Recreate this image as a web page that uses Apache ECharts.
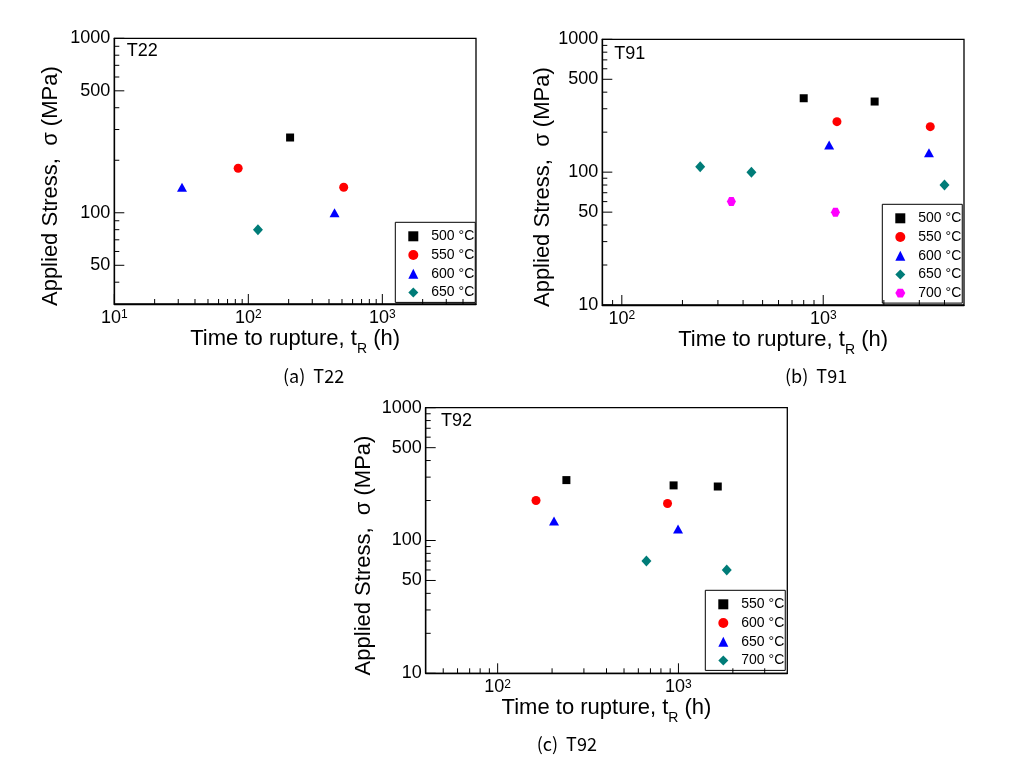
<!DOCTYPE html>
<html><head><meta charset="utf-8">
<script src="https://cdn.jsdelivr.net/npm/echarts@6/dist/echarts.min.js"></script>
<style>html,body{margin:0;padding:0;background:#fff}#c{width:1019px;height:763px}</style>
</head><body><div id="c"></div>
<script>
// ---------- data (time to rupture [h], applied stress [MPa]) ----------
// (a) T22
const t22_500 = [[205, 270]];
const t22_550 = [[84, 180], [515, 140]];
const t22_600 = [[32, 140], [440, 100]];
const t22_650 = [[118, 80]];
// (b) T91
const t91_500 = [[800, 360], [1800, 340]];
const t91_550 = [[1170, 240], [3400, 220]];
const t91_600 = [[1070, 160], [3350, 140]];
const t91_650 = [[245, 110], [440, 100], [4000, 80]];
const t91_700 = [[350, 60], [1150, 50]];
// (c) T92
const t92_550 = [[240, 285], [940, 260], [1650, 255]];
const t92_600 = [[163, 200], [870, 190]];
const t92_650 = [[205, 140], [995, 122]];
const t92_700 = [[665, 70], [1850, 60]];

// tick values
const xMajorA = [10, 100, 1000];
const xMinorA = [20, 30, 40, 50, 60, 70, 80, 90, 200, 300, 400, 500, 600, 700, 800, 900, 2000, 3000, 4000];
const yMajorA = [50, 100, 500, 1000];
const yMinorA = [40, 60, 70, 80, 90, 200, 300, 400, 600, 700, 800, 900];
const xMajorB = [100, 1000];
const xMinorB = [90, 200, 300, 400, 500, 600, 700, 800, 900, 2000, 3000, 4000];
const xMajorC = [100, 1000];
const xMinorC = [50, 60, 70, 80, 90, 200, 300, 400, 500, 600, 700, 800, 900, 2000, 3000];
const yMajorBC = [10, 50, 100, 500, 1000];
const yMinorBC = [20, 30, 40, 60, 70, 80, 90, 200, 300, 400, 600, 700, 800, 900];

const panelLabels = ['T22', 'T91', 'T92'];
const captions = ['(a)  T22', '(b)  T91', '(c)  T92'];
const xTitle = 'Time to rupture, t{sub|R} (h)';
const yTitle = 'Applied Stress,  σ (MPa)';

// ---------- styling ----------
const FONT = '"Liberation Sans", Arial, sans-serif';
const COL = {black: '#000000', red: '#ff0000', blue: '#0000ff', teal: '#007c78', magenta: '#ff00ff'};
const HEX = 'path://M-1,0 L-0.5,-0.87 L0.5,-0.87 L1,0 L0.5,0.87 L-0.5,0.87 Z';
const SYM = {
  sq: {symbol: 'rect', symbolSize: 8},
  ci: {symbol: 'circle', symbolSize: 9},
  tr: {symbol: 'triangle', symbolSize: [10, 9]},
  di: {symbol: 'diamond', symbolSize: [10, 11]},
  hx: {symbol: HEX, symbolSize: [9, 9]}
};
const MAJOR_LEN = 10, MINOR_LEN = 5;

const grids = [
  {left: 114.3, top: 38.3, width: 361.7, height: 265.7},
  {left: 602.3, top: 39.3, width: 361.7, height: 265.7},
  {left: 425.7, top: 407.7, width: 361.6, height: 265.6}
];
const xRange = [[10, 5000], [80, 5000], [40, 4000]];
const yRange = [[30, 1000], [10, 1000], [10, 1000]];
const xMaj = [xMajorA, xMajorB, xMajorC];
const xMin = [xMinorA, xMinorB, xMinorC];
const yMaj = [yMajorA, yMajorBC, yMajorBC];
const yMin = [yMinorA, yMinorBC, yMinorBC];
const yNameGap = [52, 39.5, 51];

const xAxes = [], yAxes = [];
for (let g = 0; g < 3; g++) {
  xAxes.push({
    type: 'log', logBase: 10, gridIndex: g, position: 'bottom',
    min: xRange[g][0], max: xRange[g][1],
    axisLine: {show: true, lineStyle: {color: '#000', width: 1.3}},
    axisTick: {show: false},
    axisLabel: {
      customValues: xMaj[g], color: '#000', fontFamily: FONT, fontSize: 18, margin: 5,
      formatter: v => '10{sup|' + Math.round(Math.log10(v)) + '}',
      rich: {sup: {fontSize: 12, fontFamily: FONT, color: '#000', verticalAlign: 'top'}}
    },
    splitLine: {show: false},
    name: xTitle, nameLocation: 'middle', nameGap: 18,
    nameTextStyle: {
      color: '#000', fontFamily: FONT, fontSize: 22,
      rich: {sub: {fontSize: 14, fontFamily: FONT, color: '#000', padding: [20, 0, 0, 0]}}
    }
  });
  yAxes.push({
    type: 'log', logBase: 10, gridIndex: g, position: 'left',
    min: yRange[g][0], max: yRange[g][1],
    axisLine: {show: true, lineStyle: {color: '#000', width: 1.3}},
    axisTick: {show: false},
    axisLabel: {customValues: yMaj[g], color: '#000', fontFamily: FONT, fontSize: 18, margin: 4,
      formatter: v => String(Math.round(v))},
    splitLine: {show: false},
    name: yTitle, nameLocation: 'middle', nameRotate: 90, nameGap: yNameGap[g],
    nameTextStyle: {color: '#000', fontFamily: FONT, fontSize: 22, padding: [0, 30, 0, 0]}
  });
}

function sc(name, g, data, sym, color) {
  return Object.assign({
    type: 'scatter', name: name, xAxisIndex: g, yAxisIndex: g, data: data, z: 3,
    itemStyle: {color: color, opacity: 1}, emphasis: {disabled: true}, animation: false
  }, SYM[sym]);
}

// tick marks drawn through the axes' own log scales (inside ticks)
function tickSeries(g, dir) {
  const maj = dir === 'x' ? xMaj[g] : yMaj[g];
  const mnr = dir === 'x' ? xMin[g] : yMin[g];
  const data = [];
  maj.forEach(v => data.push(dir === 'x' ? [v, yRange[g][0], MAJOR_LEN] : [xRange[g][0], v, MAJOR_LEN]));
  mnr.forEach(v => data.push(dir === 'x' ? [v, yRange[g][0], MINOR_LEN] : [xRange[g][0], v, MINOR_LEN]));
  return {
    type: 'custom', xAxisIndex: g, yAxisIndex: g, data: data, clip: false, silent: true, z: 4,
    encode: {x: 0, y: 1}, animation: false, tooltip: {show: false},
    renderItem: (params, api) => {
      const p = api.coord([api.value(0), api.value(1)]);
      const len = api.value(2);
      const shape = dir === 'x'
        ? {x1: p[0], y1: p[1], x2: p[0], y2: p[1] - len}
        : {x1: p[0], y1: p[1], x2: p[0] + len, y2: p[1]};
      return {type: 'line', shape: shape, style: {stroke: '#000', lineWidth: 1}};
    }
  };
}

const series = [
  sc('a500', 0, t22_500, 'sq', COL.black),
  sc('a550', 0, t22_550, 'ci', COL.red),
  sc('a600', 0, t22_600, 'tr', COL.blue),
  sc('a650', 0, t22_650, 'di', COL.teal),
  sc('b500', 1, t91_500, 'sq', COL.black),
  sc('b550', 1, t91_550, 'ci', COL.red),
  sc('b600', 1, t91_600, 'tr', COL.blue),
  sc('b650', 1, t91_650, 'di', COL.teal),
  sc('b700', 1, t91_700, 'hx', COL.magenta),
  sc('c550', 2, t92_550, 'sq', COL.black),
  sc('c600', 2, t92_600, 'ci', COL.red),
  sc('c650', 2, t92_650, 'tr', COL.blue),
  sc('c700', 2, t92_700, 'di', COL.teal)
];
for (let g = 0; g < 3; g++) { series.push(tickSeries(g, 'x')); series.push(tickSeries(g, 'y')); }

function lg(names, left, top) {
  return {
    data: names, orient: 'vertical', left: left, top: top,
    padding: [7, 1, 3, 13], itemWidth: 10, itemHeight: 10, itemGap: 4.7,
    borderColor: '#000', borderWidth: 1, borderRadius: 0, backgroundColor: '#fff',
    selectedMode: false,
    formatter: n => n.slice(1) + ' °C',
    textStyle: {color: '#000', fontFamily: FONT, fontSize: 14, lineHeight: 14, padding: [0, 0, 0, 8]}
  };
}

const titles = [];
const lblPos = [[126.7, 42], [614.3, 45.5], [441, 412]];
for (let g = 0; g < 3; g++) {
  titles.push({text: panelLabels[g], left: lblPos[g][0], top: lblPos[g][1], padding: 0,
    textStyle: {color: '#000', fontFamily: FONT, fontSize: 18, fontWeight: 'normal'}});
}
const capPos = [[283, 367], [785, 367], [536.7, 735]];
for (let g = 0; g < 3; g++) {
  titles.push({text: captions[g], left: capPos[g][0], top: capPos[g][1], padding: 0,
    textStyle: {color: '#000', fontFamily: '"Noto Sans CJK KR", "Noto Sans", sans-serif', fontSize: 18, fontWeight: 'normal'}});
}

const chart = echarts.init(document.getElementById('c'), null, {renderer: 'canvas'});
chart.setOption({
  backgroundColor: '#fff',
  animation: false,
  title: titles,
  grid: grids.map(g => Object.assign({show: true, borderColor: '#000', borderWidth: 1.3, backgroundColor: 'transparent', containLabel: false}, g)),
  xAxis: xAxes,
  yAxis: yAxes,
  legend: [
    lg(['a500', 'a550', 'a600', 'a650'], 395.3, 222.3),
    lg(['b500', 'b550', 'b600', 'b650', 'b700'], 882.3, 204.3),
    lg(['c550', 'c600', 'c650', 'c700'], 705.3, 590.3)
  ],
  series: series
});
</script></body></html>
